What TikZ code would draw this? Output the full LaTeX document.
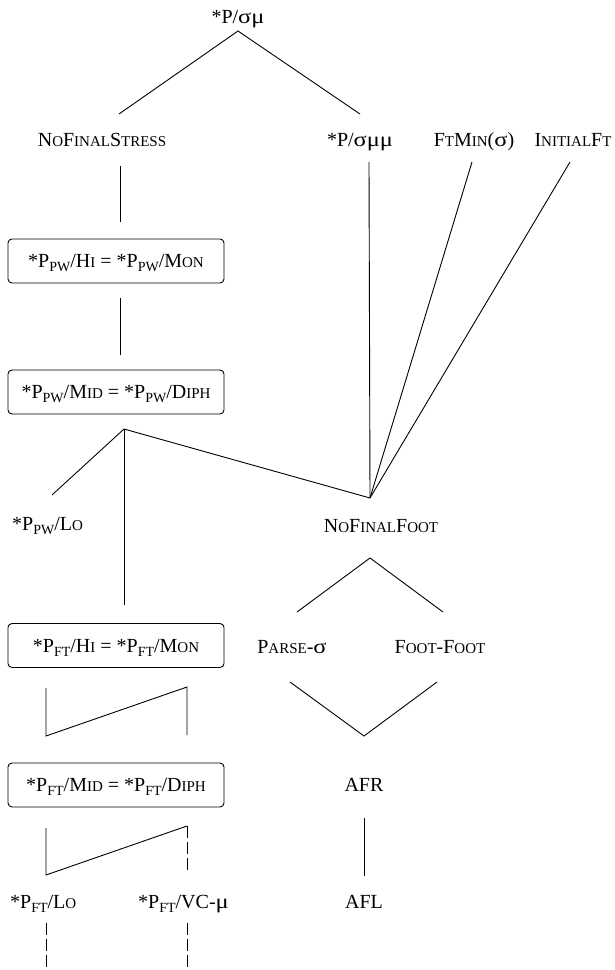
\documentclass[tikz,border=0pt]{standalone}
\usepackage{fontspec}
\setmainfont{Liberation Serif}
% small capitals, set as reduced upper-case letters
\newcommand\smc[1]{{\fontsize{15}{15}\selectfont #1}}
% lowered small subscript (PW, FT)
\newcommand\lsub[1]{\raisebox{-0.2em}{\fontsize{14}{14}\selectfont #1}}
% slightly widened Greek letters
\newcommand\gk[1]{\scalebox{1.22}[1.02]{#1}}
\begin{document}
\begin{tikzpicture}[x=1pt,y=-1pt,
  lbl/.style={font=\fontsize{20}{24}\selectfont, inner sep=0pt, anchor=base},
  cbox/.style={draw, rounded corners=4pt, line width=0.9pt, minimum width=216pt,
    minimum height=44pt, inner sep=0pt, text height=13.2pt, text depth=0pt,
    font=\fontsize{20}{24}\selectfont},
  link/.style={line width=0.9pt},
  dlink/.style={link, dash pattern=on 12pt off 4pt}]
\useasboundingbox (0,0) rectangle (614,970);

% ---- labels ----
\node[lbl] (top)   at (238,23)  {*P/\gk{σ}\gk{μ}};
\node[lbl] (nfs)   at (102,146) {N\smc{O}F\smc{INAL}S\smc{TRESS}};
\node[lbl] (psmm)  at (360,146) {*P/\gk{σ}\gk{μ}\gk{μ}};
\node[lbl] (ftmin) at (474,146) {F\smc{T}M\smc{IN}(\gk{σ})};
\node[lbl] (inft)  at (573,146) {I\smc{NITIAL}F\smc{T}};

\node[cbox] (b1) at (116,261) {*P\lsub{PW}/H\smc{I} = *P\lsub{PW}/M\smc{ON}};
\node[cbox] (b2) at (116,392) {*P\lsub{PW}/M\smc{ID} = *P\lsub{PW}/D\smc{IPH}};

\node[lbl, anchor=base west] (pwlo) at (12,530) {*P\lsub{PW}/L\smc{O}};
\node[lbl] (nff) at (381,532) {N\smc{O}F\smc{INAL}F\smc{OOT}};

\node[cbox] (b3) at (116,645.5) {*P\lsub{FT}/H\smc{I} = *P\lsub{FT}/M\smc{ON}};
\node[lbl] (parse) at (292,653) {P\smc{ARSE}-\gk{σ}};
\node[lbl] (ff)    at (440,653) {F\smc{OOT}-F\smc{OOT}};

\node[cbox] (b4) at (116,785) {*P\lsub{FT}/M\smc{ID} = *P\lsub{FT}/D\smc{IPH}};
\node[lbl] (afr) at (364,791) {AFR};

\node[lbl, anchor=base west] (ftlo) at (10,908)  {*P\lsub{FT}/L\smc{O}};
\node[lbl, anchor=base west] (ftvc) at (138,908) {*P\lsub{FT}/VC-\gk{μ}};
\node[lbl] (afl) at (364,908) {AFL};

% ---- connection points ----
\coordinate (t0) at (238,31);  \coordinate (t1) at (119,114); \coordinate (t2) at (360,114);
\coordinate (s1) at (120,166); \coordinate (s2) at (120,222);
\coordinate (s3) at (120,298); \coordinate (s4) at (120,355);
\coordinate (j)  at (124,429); \coordinate (jl) at (52,495);  \coordinate (jd) at (124,605);
\coordinate (f)  at (370,498);
\coordinate (m1) at (369,162); \coordinate (m2) at (472,162); \coordinate (m3) at (570,162);
\coordinate (n0) at (370,558); \coordinate (n1) at (297,612); \coordinate (n2) at (443,612);
\coordinate (v1) at (290,682); \coordinate (v0) at (364,736); \coordinate (v2) at (437,682);
\coordinate (r1) at (364,818); \coordinate (r2) at (364,876);
\coordinate (z1) at (46,688);  \coordinate (z2) at (46,736);
\coordinate (z3) at (187,687); \coordinate (z4) at (187,735);
\coordinate (y1) at (46,828);  \coordinate (y2) at (46,875);
\coordinate (y3) at (187,826); \coordinate (y4) at (187,873);
\coordinate (d1) at (46,923);  \coordinate (d2) at (46,970);
\coordinate (d3) at (187,923); \coordinate (d4) at (187,970);

% ---- connectors ----
\draw[link] (t1) -- (t0) -- (t2);
\draw[link] (s1) -- (s2);
\draw[link] (s3) -- (s4);
\draw[link] (jl) -- (j) -- (f);
\draw[link] (j) -- (jd);
\draw[link] (m1) -- (f);
\draw[link] (m2) -- (f);
\draw[link] (m3) -- (f);
\draw[link] (n1) -- (n0) -- (n2);
\draw[link] (v1) -- (v0) -- (v2);
\draw[link] (r1) -- (r2);
\draw[link] (z1) -- (z2) -- (z3) -- (z4);
\draw[link] (y1) -- (y2) -- (y3);
\draw[dlink] (y3) -- (y4);
\draw[dlink] (d1) -- (d2);
\draw[dlink] (d3) -- (d4);
\end{tikzpicture}
\end{document}
